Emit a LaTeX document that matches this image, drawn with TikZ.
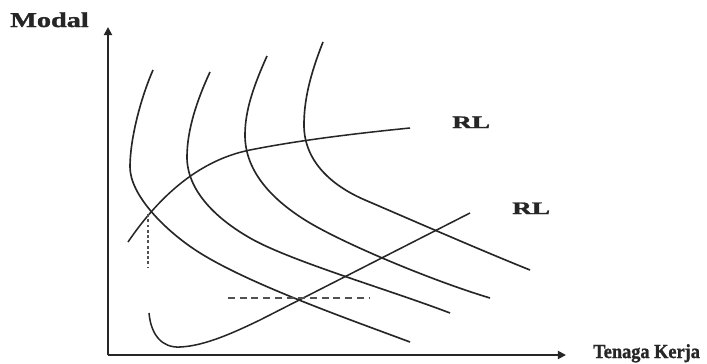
\documentclass[tikz,border=0pt]{standalone}
\usepackage{fontspec}
\usepackage{graphicx}
\setmainfont{Liberation Serif}
\newfontfamily\heavyserif{Liberation Serif Bold}[FakeBold=1.2]
\usetikzlibrary{arrows.meta}
\definecolor{ink}{HTML}{262626}
\tikzset{
  axis/.style={line width=1.5pt, draw=ink, -{Triangle[length=7pt,width=7pt]}},
  isoquant/.style={line width=1.4pt, draw=ink},
  pathline/.style={line width=1.3pt, draw=ink},
  guide/.style={line width=1.1pt, draw=ink!80},
  lbl/.style={inner sep=0pt, anchor=base west, text=ink},
}
\begin{document}
\begin{tikzpicture}[x=0.03cm, y=-0.03cm]
  \useasboundingbox[fill=white] (0,0) rectangle (707,363);

  % axes
  \coordinate (O) at (108,355);
  \coordinate (ytop) at (108,27);
  \coordinate (xend) at (566,355);
  \draw[axis] (O) -- (ytop);
  \draw[axis] (O) -- (xend);
  \node[lbl] (modal) at (10,27) {\scalebox{1.34}[1]{\fontsize{18}{18}\heavyserif Modal}};
  \node[lbl] (tk) at (593,358) {\scalebox{0.92}[1]{\fontsize{17}{17}\heavyserif Tenaga Kerja}};

  % isoquants
  \draw[isoquant] (153,70) .. controls (140,100) and (130,140) .. (130,167)
                 .. controls (130,195) and (165,231) .. (200,253)
                 .. controls (250,284) and (340,316) .. (410,342);
  \draw[isoquant] (210,72) .. controls (197,100) and (187,130) .. (187,157)
                 .. controls (187,190) and (215,218) .. (250,238)
                 .. controls (290,261) and (390,290) .. (450,313);
  \draw[isoquant] (267,56) .. controls (254,85) and (245,110) .. (245,135)
                 .. controls (245,170) and (270,198) .. (305,220)
                 .. controls (340,242) and (430,280) .. (490,298);
  \draw[isoquant] (323,42) .. controls (310,75) and (304,100) .. (304,125)
                 .. controls (304,160) and (330,185) .. (365,200)
                 .. controls (400,215) and (480,250) .. (530,270);

  % expansion paths
  \draw[pathline] (128,242) .. controls (160,195) and (200,160) .. (250,150)
                 .. controls (300,140) and (360,133) .. (410,128);
  \draw[pathline] (149,313) .. controls (151,335) and (162,348) .. (180,347)
                 .. controls (205,346) and (235,332) .. (260,320)
                 -- (470,213);

  % guide lines
  \coordinate (p1) at (148,214);
  \coordinate (p1b) at (148,268);
  \coordinate (h1) at (228,298);
  \coordinate (h2) at (370,298);
  \draw[guide, dash pattern=on 2.5pt off 2pt] (p1) -- (p1b);
  \draw[guide, dash pattern=on 6pt off 4pt] (h1) -- (h2);

  \node[lbl] (rl1) at (452,128) {\scalebox{1.55}[1]{\fontsize{15}{15}\heavyserif RL}};
  \node[lbl] (rl2) at (512,214) {\scalebox{1.55}[1]{\fontsize{15}{15}\heavyserif RL}};
\end{tikzpicture}
\end{document}
